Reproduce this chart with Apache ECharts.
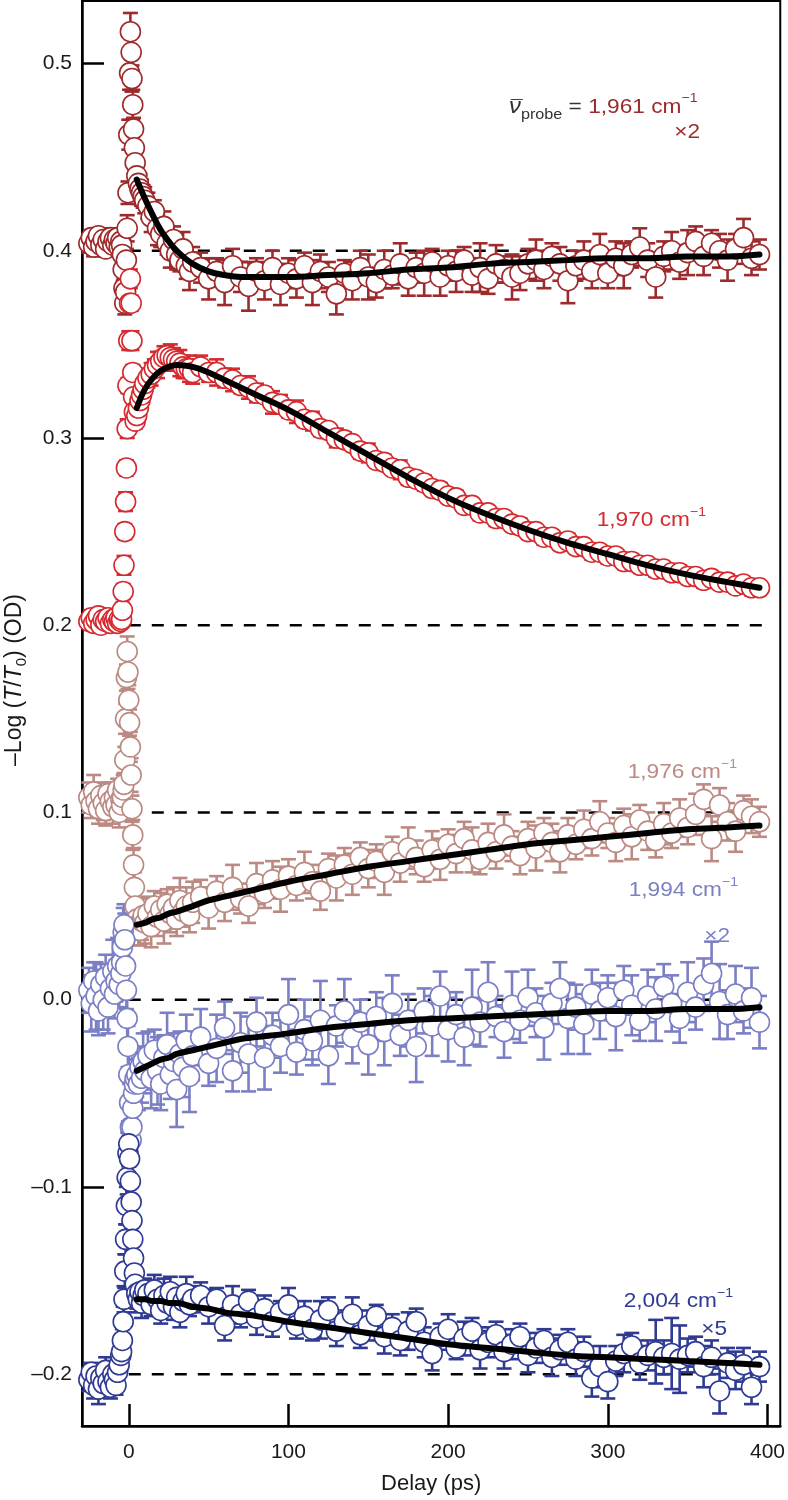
<!DOCTYPE html>
<html>
<head>
<meta charset="utf-8">
<script src="https://cdn.jsdelivr.net/npm/echarts@6/dist/echarts.min.js"></script>
<style>
html,body{margin:0;padding:0;background:#fff;}
#chart{width:788px;height:1500px;}
</style>
</head>
<body>
<div id="chart"></div>
<script>
// ---------------- DATA ----------------
const delays = [
  -25,-23.5,-22,-20.5,-19,-17.5,-16,-14.5,-13,-11.5,-10,-9,-8,-7,-6,-5,
  -4.5,-4,-3.5,-3,-2.5,-2,-1.5,-1,-0.5,0,0.5,1,1.5,2,2.5,3,3.5,4,5,6,7,8,9,10,
  12,14,16,18,20,22,24,26,28,30,32,34,36,38,40,
  45,50,55,60,65,70,75,80,85,90,
  95,100,105,110,115,120,125,130,135,140,
  145,150,155,160,165,170,175,180,185,190,
  195,200,205,210,215,220,225,230,235,240,
  245,250,255,260,265,270,275,280,285,290,
  295,300,305,310,315,320,325,330,335,340,
  345,350,355,360,365,370,375,380,385,390,
  395
];

// 1,961 cm-1 (x2)
const v1961 = [
  0.404,0.407,0.402,0.405,0.408,0.403,0.406,0.401,0.405,0.407,0.403,0.406,0.404,0.407,0.402,0.405,
  0.403,0.398,0.390,0.380,0.372,0.378,0.395,0.412,0.431,0.462,0.495,0.517,0.506,0.492,0.478,0.465,0.455,0.447,0.440,0.436,0.433,0.431,0.429,0.427,
  0.424,0.418,0.421,0.412,0.409,0.413,0.404,0.400,0.406,0.398,0.395,0.401,0.392,0.389,0.394,
  0.391,0.385,0.389,0.383,0.392,0.386,0.381,0.389,0.384,0.391,
  0.382,0.388,0.385,0.392,0.383,0.389,0.386,0.377,0.388,0.384,
  0.391,0.386,0.383,0.390,0.387,0.393,0.385,0.391,0.388,0.394,
  0.386,0.392,0.389,0.395,0.387,0.391,0.385,0.393,0.390,0.386,
  0.388,0.393,0.395,0.390,0.397,0.393,0.384,0.392,0.395,0.389,
  0.398,0.388,0.396,0.392,0.398,0.402,0.395,0.386,0.397,0.400,
  0.394,0.399,0.405,0.397,0.404,0.400,0.395,0.401,0.407,0.396,
  0.398
];
const e1961 = [
  0.005,0.004,0.005,0.006,0.004,0.005,0.005,0.004,0.006,0.005,0.004,0.005,0.005,0.004,0.005,0.006,
  0.006,0.005,0.006,0.005,0.006,0.005,0.006,0.007,0.006,0.008,0.009,0.010,0.008,0.007,0.008,0.006,0.007,0.006,0.007,0.006,0.008,0.007,0.006,0.007,
  0.007,0.008,0.006,0.009,0.007,0.008,0.006,0.009,0.007,0.008,0.006,0.009,0.007,0.010,0.008,
  0.008,0.011,0.007,0.012,0.009,0.008,0.013,0.007,0.010,0.009,
  0.011,0.008,0.010,0.007,0.012,0.009,0.008,0.011,0.007,0.010,
  0.009,0.012,0.008,0.010,0.007,0.011,0.009,0.008,0.012,0.007,
  0.010,0.008,0.011,0.007,0.009,0.013,0.008,0.010,0.007,0.012,
  0.009,0.008,0.011,0.010,0.007,0.009,0.012,0.008,0.010,0.009,
  0.011,0.008,0.009,0.012,0.007,0.010,0.009,0.011,0.008,0.010,
  0.009,0.012,0.008,0.010,0.007,0.009,0.011,0.008,0.010,0.009,
  0.008
];

// 1,970 cm-1
const v1970 = [
  0.202,0.204,0.201,0.203,0.205,0.200,0.203,0.202,0.204,0.201,0.203,0.202,0.204,0.201,0.203,0.202,
  0.203,0.208,0.218,0.232,0.250,0.266,0.284,0.305,0.328,0.352,0.372,0.385,0.372,0.352,0.335,0.322,0.314,0.309,0.312,0.316,0.320,0.323,0.326,0.329,
  0.332,0.334,0.337,0.339,0.341,0.343,0.344,0.343,0.342,0.341,0.340,0.338,0.337,0.337,0.335,
  0.338,0.335,0.335,0.332,0.331,0.328,0.327,0.324,0.323,0.319,
  0.318,0.315,0.314,0.310,0.309,0.305,0.304,0.300,0.299,0.297,
  0.293,0.292,0.288,0.287,0.284,0.283,0.279,0.278,0.276,0.273,
  0.272,0.269,0.268,0.264,0.264,0.260,0.260,0.257,0.257,0.254,
  0.253,0.250,0.250,0.247,0.247,0.244,0.245,0.242,0.242,0.239,
  0.239,0.237,0.237,0.234,0.234,0.232,0.232,0.230,0.230,0.228,
  0.228,0.226,0.226,0.224,0.225,0.223,0.223,0.221,0.222,0.220,
  0.220
];
const e1970 = [
  0.003,0.004,0.003,0.003,0.004,0.003,0.003,0.004,0.003,0.003,0.004,0.003,0.003,0.004,0.003,0.003,
  0.003,0.004,0.004,0.005,0.004,0.005,0.004,0.005,0.004,0.005,0.004,0.005,0.004,0.005,0.004,0.004,0.005,0.004,0.004,0.005,0.004,0.005,0.004,0.005,
  0.005,0.006,0.005,0.007,0.005,0.006,0.005,0.007,0.006,0.005,0.007,0.006,0.005,0.007,0.006,
  0.006,0.005,0.007,0.005,0.006,0.004,0.006,0.005,0.004,0.006,
  0.005,0.004,0.006,0.004,0.005,0.004,0.003,0.005,0.004,0.003,
  0.004,0.005,0.003,0.004,0.003,0.005,0.004,0.003,0.004,0.003,
  0.004,0.003,0.004,0.003,0.003,0.004,0.003,0.004,0.003,0.003,
  0.004,0.003,0.003,0.004,0.003,0.003,0.004,0.003,0.003,0.004,
  0.003,0.004,0.003,0.003,0.004,0.003,0.003,0.004,0.003,0.003,
  0.004,0.003,0.003,0.004,0.003,0.003,0.004,0.003,0.003,0.004,
  0.003
];

// 1,976 cm-1
const v1976 = [
  0.108,0.104,0.111,0.106,0.102,0.109,0.105,0.101,0.110,0.106,0.103,0.108,0.104,0.112,0.100,0.107,
  0.104,0.108,0.112,0.115,0.128,0.150,0.172,0.186,0.175,0.160,0.148,0.135,0.120,0.102,0.088,0.072,0.060,0.050,0.043,0.040,0.037,0.042,0.045,0.041,
  0.046,0.039,0.050,0.044,0.048,0.042,0.051,0.046,0.049,0.043,0.053,0.047,0.050,0.045,0.052,
  0.055,0.049,0.058,0.052,0.060,0.054,0.050,0.062,0.057,0.064,
  0.059,0.066,0.061,0.068,0.063,0.058,0.070,0.065,0.072,0.067,
  0.076,0.070,0.074,0.068,0.079,0.073,0.081,0.076,0.071,0.080,
  0.075,0.083,0.078,0.086,0.080,0.075,0.084,0.079,0.088,0.082,
  0.077,0.086,0.081,0.089,0.084,0.079,0.088,0.083,0.091,0.086,
  0.095,0.089,0.084,0.093,0.087,0.096,0.090,0.085,0.094,0.089,
  0.097,0.092,0.099,0.107,0.086,0.104,0.095,0.090,0.101,0.098,
  0.095
];
const e1976 = [
  0.008,0.007,0.009,0.006,0.008,0.007,0.009,0.008,0.006,0.007,0.009,0.008,0.007,0.006,0.008,0.007,
  0.008,0.007,0.008,0.006,0.007,0.008,0.007,0.008,0.009,0.008,0.007,0.008,0.009,0.007,0.008,0.009,0.008,0.010,0.009,0.011,0.008,0.010,0.009,0.011,
  0.009,0.011,0.008,0.010,0.009,0.012,0.008,0.010,0.011,0.009,0.012,0.008,0.010,0.009,0.011,
  0.009,0.011,0.008,0.010,0.012,0.008,0.009,0.011,0.008,0.010,
  0.012,0.009,0.008,0.011,0.009,0.010,0.008,0.012,0.009,0.011,
  0.008,0.010,0.009,0.012,0.008,0.010,0.011,0.009,0.008,0.010,
  0.011,0.008,0.010,0.009,0.012,0.008,0.010,0.009,0.011,0.008,
  0.010,0.009,0.012,0.008,0.010,0.011,0.009,0.008,0.010,0.009,
  0.011,0.008,0.010,0.009,0.012,0.008,0.010,0.009,0.011,0.008,
  0.010,0.009,0.011,0.008,0.012,0.009,0.010,0.011,0.008,0.009,
  0.008
];

// 1,994 cm-1 (x2)
const v1994 = [
  0.005,-0.002,0.010,0.002,-0.006,0.008,0.000,0.012,-0.004,0.006,0.015,0.003,0.010,0.018,0.008,0.014,
  0.020,0.028,0.036,0.040,0.032,0.018,0.005,-0.010,-0.025,-0.040,-0.055,-0.068,-0.075,-0.068,-0.058,-0.050,-0.045,-0.042,-0.040,-0.045,-0.036,-0.042,-0.033,-0.038,
  -0.030,-0.042,-0.027,-0.038,-0.045,-0.031,-0.024,-0.040,-0.033,-0.048,-0.029,-0.036,-0.022,-0.041,-0.030,
  -0.020,-0.034,-0.026,-0.015,-0.038,-0.023,-0.029,-0.012,-0.031,-0.019,
  -0.025,-0.008,-0.028,-0.016,-0.022,-0.011,-0.030,-0.014,-0.006,-0.020,
  -0.012,-0.024,-0.009,-0.017,-0.002,-0.019,-0.011,-0.025,-0.006,-0.014,
  0.002,-0.016,-0.008,-0.020,-0.004,-0.012,0.004,-0.009,-0.017,-0.003,
  -0.011,0.001,-0.007,-0.015,-0.002,0.006,-0.010,-0.004,-0.013,0.003,
  -0.006,0.001,-0.009,0.005,-0.003,-0.011,0.002,-0.005,0.007,-0.002,
  -0.010,0.004,-0.004,0.008,0.014,-0.001,-0.008,0.003,-0.006,0.001,
  -0.012
];
const e1994 = [
  0.012,0.015,0.010,0.018,0.013,0.011,0.016,0.012,0.014,0.010,0.017,0.013,0.011,0.015,0.012,0.014,
  0.012,0.010,0.013,0.011,0.014,0.012,0.010,0.013,0.011,0.012,0.010,0.009,0.011,0.010,0.012,0.011,0.013,0.010,0.012,0.014,0.011,0.013,0.015,0.012,
  0.013,0.016,0.011,0.018,0.014,0.012,0.017,0.013,0.015,0.020,0.012,0.016,0.014,0.019,0.013,
  0.015,0.012,0.018,0.014,0.011,0.016,0.020,0.013,0.017,0.012,
  0.014,0.019,0.012,0.016,0.013,0.021,0.015,0.011,0.017,0.014,
  0.012,0.016,0.013,0.018,0.015,0.011,0.014,0.019,0.012,0.016,
  0.013,0.017,0.012,0.015,0.020,0.013,0.016,0.011,0.014,0.018,
  0.012,0.015,0.013,0.017,0.011,0.014,0.019,0.012,0.016,0.013,
  0.015,0.012,0.018,0.013,0.016,0.011,0.014,0.017,0.012,0.015,
  0.013,0.016,0.012,0.014,0.017,0.020,0.013,0.015,0.012,0.016,
  0.014
];

// 2,004 cm-1 (x5)
const v2004 = [
  -0.203,-0.199,-0.206,-0.201,-0.208,-0.202,-0.205,-0.198,-0.204,-0.207,-0.200,-0.203,-0.206,-0.199,-0.195,-0.190,
  -0.188,-0.182,-0.172,-0.160,-0.145,-0.128,-0.110,-0.095,-0.082,-0.077,-0.085,-0.097,-0.108,-0.118,-0.128,-0.138,-0.146,-0.152,-0.157,-0.160,-0.156,-0.162,-0.158,-0.155,
  -0.157,-0.163,-0.155,-0.160,-0.166,-0.158,-0.162,-0.156,-0.164,-0.159,-0.167,-0.161,-0.157,-0.163,-0.160,
  -0.158,-0.164,-0.160,-0.174,-0.163,-0.168,-0.161,-0.170,-0.165,-0.172,
  -0.167,-0.163,-0.174,-0.169,-0.176,-0.171,-0.166,-0.177,-0.172,-0.168,
  -0.179,-0.174,-0.169,-0.180,-0.175,-0.182,-0.177,-0.172,-0.183,-0.189,
  -0.180,-0.176,-0.186,-0.181,-0.177,-0.187,-0.183,-0.179,-0.188,-0.184,
  -0.180,-0.190,-0.186,-0.182,-0.191,-0.187,-0.183,-0.192,-0.188,-0.202,
  -0.196,-0.204,-0.193,-0.189,-0.185,-0.194,-0.190,-0.188,-0.191,-0.189,
  -0.192,-0.190,-0.188,-0.196,-0.191,-0.209,-0.194,-0.198,-0.195,-0.207,
  -0.196
];
const e2004 = [
  0.006,0.005,0.007,0.006,0.008,0.005,0.006,0.007,0.005,0.006,0.007,0.006,0.005,0.007,0.006,0.008,
  0.007,0.006,0.008,0.007,0.009,0.008,0.010,0.009,0.011,0.012,0.010,0.009,0.008,0.009,0.008,0.007,0.008,0.009,0.008,0.007,0.006,0.008,0.007,0.006,
  0.007,0.006,0.008,0.006,0.007,0.009,0.006,0.008,0.007,0.006,0.008,0.007,0.009,0.006,0.007,
  0.007,0.009,0.006,0.008,0.010,0.007,0.006,0.009,0.007,0.008,
  0.006,0.009,0.007,0.008,0.006,0.010,0.007,0.008,0.006,0.009,
  0.007,0.008,0.006,0.009,0.007,0.008,0.010,0.007,0.008,0.009,
  0.007,0.008,0.006,0.009,0.007,0.010,0.008,0.007,0.009,0.008,
  0.007,0.009,0.008,0.006,0.010,0.008,0.007,0.009,0.008,0.010,
  0.011,0.009,0.008,0.010,0.007,0.009,0.008,0.017,0.009,0.019,
  0.018,0.009,0.008,0.011,0.009,0.012,0.008,0.010,0.009,0.009,
  0.008
];

// fitted curves (black)
const fitDelays = [5,10,15,20,25,30,40,50,60,70,80,100,125,150,175,200,225,250,275,300,325,350,375,395];
const fit1961 = [0.438,0.428,0.419,0.411,0.405,0.400,0.393,0.389,0.387,0.386,0.386,0.386,0.387,0.388,0.390,0.391,0.393,0.394,0.395,0.396,0.396,0.397,0.397,0.398];
const fit1970 = [0.316,0.326,0.332,0.336,0.338,0.339,0.338,0.335,0.331,0.327,0.323,0.315,0.303,0.291,0.279,0.268,0.259,0.251,0.244,0.238,0.232,0.227,0.223,0.220];
const fit1976 = [0.040,0.041,0.043,0.044,0.046,0.047,0.050,0.053,0.055,0.057,0.059,0.063,0.067,0.071,0.074,0.077,0.080,0.083,0.085,0.087,0.089,0.091,0.092,0.093];
const fit1994 = [-0.038,-0.036,-0.034,-0.032,-0.031,-0.029,-0.027,-0.025,-0.023,-0.021,-0.020,-0.018,-0.015,-0.013,-0.011,-0.010,-0.009,-0.008,-0.007,-0.006,-0.006,-0.005,-0.005,-0.004];
const fit2004 = [-0.160,-0.160,-0.161,-0.161,-0.162,-0.162,-0.164,-0.165,-0.167,-0.168,-0.169,-0.172,-0.175,-0.178,-0.181,-0.184,-0.186,-0.188,-0.190,-0.191,-0.192,-0.193,-0.194,-0.195];

// dashed baselines
const baselines = [0.4, 0.2, 0.1, 0.0, -0.2];
const baselineRange = [0, 400];

const xTicks = [0, 100, 200, 300, 400];
const yTicks = [-0.2, -0.1, 0.0, 0.1, 0.2, 0.3, 0.4, 0.5];

// ---------------- STYLE ----------------
const FONT = "'Liberation Sans', Arial, Helvetica, sans-serif";
const TXT = '#1a1a1a';
const traces = [
  {vals: v1961, errs: e1961, fit: fit1961, color: '#9d2a2c'},
  {vals: v1970, errs: e1970, fit: fit1970, color: '#d42b30'},
  {vals: v1976, errs: e1976, fit: fit1976, color: '#bb8a83'},
  {vals: v1994, errs: e1994, fit: fit1994, color: '#7b7fc4'},
  {vals: v2004, errs: e2004, fit: fit2004, color: '#2f3a92'}
];

const series = [];
baselines.forEach(b => {
  series.push({
    type: 'line', z: 1, silent: true, symbol: 'none', animation: false,
    data: baselineRange.map(x => [x, b]),
    lineStyle: {color: '#000', width: 2.5, type: [12, 11]}
  });
});
traces.forEach(t => {
  const n = Math.min(delays.length, t.vals.length, t.errs.length);
  const errData = [], ptData = [];
  for (let i = 0; i < n; i++) {
    errData.push([delays[i], t.vals[i] - t.errs[i], t.vals[i] + t.errs[i]]);
    ptData.push([delays[i], t.vals[i]]);
  }
  series.push({
    type: 'custom', z: 2, silent: true, animation: false,
    data: errData,
    renderItem: (params, api) => {
      const x = api.value(0);
      const top = api.coord([x, api.value(2)]);
      const bot = api.coord([x, api.value(1)]);
      const hw = 7.5;
      const st = {stroke: t.color, lineWidth: 2.6};
      return {type: 'group', children: [
        {type: 'line', shape: {x1: top[0], y1: top[1], x2: bot[0], y2: bot[1]}, style: st},
        {type: 'line', shape: {x1: top[0] - hw, y1: top[1], x2: top[0] + hw, y2: top[1]}, style: st},
        {type: 'line', shape: {x1: bot[0] - hw, y1: bot[1], x2: bot[0] + hw, y2: bot[1]}, style: st}
      ]};
    }
  });
  series.push({
    type: 'scatter', z: 3, silent: true, animation: false,
    data: ptData, symbol: 'circle', symbolSize: 20,
    itemStyle: {color: '#fff', borderColor: t.color, borderWidth: 1.6, opacity: 1}
  });
});
traces.forEach(t => {
  series.push({
    type: 'line', z: 5, silent: true, animation: false, symbol: 'none', smooth: 0.4,
    data: fitDelays.map((d, i) => [d, t.fit[i]]),
    lineStyle: {color: '#000', width: 6, cap: 'round'}
  });
});

const SX = 1.08;
function lbl(x, y, text, color) {
  return {
    type: 'text', x: x, y: y, z: 100, scaleX: SX,
    style: {
      text: text, align: 'right', verticalAlign: 'middle',
      rich: {
        m: {fontSize: 21, fontFamily: FONT, fill: color, lineHeight: 28},
        s: {fontSize: 13, fontFamily: FONT, fill: color, lineHeight: 13, verticalAlign: 'top'}
      }
    }
  };
}

const chart = echarts.init(document.getElementById('chart'), null, {renderer: 'canvas'});
chart.setOption({
  animation: false,
  backgroundColor: '#fff',
  grid: {left: 82, right: 6, top: 1, bottom: 69, show: true, borderColor: '#000', borderWidth: 2, containLabel: false},
  xAxis: {
    type: 'value', min: -29.3, max: 408,
    axisLine: {show: true, onZero: false, lineStyle: {color: '#000', width: 2.5}},
    axisTick: {show: true, inside: true, length: 22, lineStyle: {color: '#000', width: 2.5}, customValues: xTicks},
    axisLabel: {customValues: xTicks, fontSize: 21, color: TXT, fontFamily: FONT, margin: 16},
    splitLine: {show: false},
    name: 'Delay (ps)', nameLocation: 'middle', nameGap: 47,
    nameTextStyle: {fontSize: 22, color: TXT, fontFamily: FONT}
  },
  yAxis: {
    type: 'value', min: -0.2277, max: 0.5334,
    axisLine: {show: true, onZero: false, lineStyle: {color: '#000', width: 2.5}},
    axisTick: {show: true, inside: true, length: 22, lineStyle: {color: '#000', width: 2.5}, customValues: yTicks},
    axisLabel: {customValues: yTicks, fontSize: 21, color: TXT, fontFamily: FONT, margin: 10,
      formatter: v => (v < -1e-9 ? '\u2013' : '') + Math.abs(v).toFixed(1)},
    splitLine: {show: false}
  },
  series: series,
  graphic: [
    {
      type: 'text', x: 15, y: 680, rotation: Math.PI / 2, z: 100,
      style: {
        text: '{m|\u2013Log (}{i|T}{m|/}{i|T}{b|0}{m|) (OD)}',
        align: 'center', verticalAlign: 'middle',
        rich: {
          m: {fontSize: 23, fontFamily: FONT, fill: TXT, lineHeight: 29},
          i: {fontSize: 23, fontFamily: FONT, fontStyle: 'italic', fill: TXT, lineHeight: 29},
          b: {fontSize: 15, fontFamily: FONT, fill: TXT, lineHeight: 15, verticalAlign: 'bottom'}
        }
      }
    },
    {
      type: 'text', x: 509, y: 107, z: 100, scaleX: SX,
      style: {
        text: '{nu|\u03BD}{sub|probe}{eq| = }{m|1,961 cm}{s|\u22121}',
        align: 'left', verticalAlign: 'middle',
        rich: {
          nu: {fontSize: 22, fontFamily: FONT, fontStyle: 'italic', fill: '#333', lineHeight: 30},
          sub: {fontSize: 15, fontFamily: FONT, fill: '#333', lineHeight: 15, verticalAlign: 'bottom'},
          eq: {fontSize: 21, fontFamily: FONT, fill: '#333', lineHeight: 30},
          m: {fontSize: 21, fontFamily: FONT, fill: '#9d2a2c', lineHeight: 30},
          s: {fontSize: 13, fontFamily: FONT, fill: '#9d2a2c', lineHeight: 13, verticalAlign: 'top'}
        }
      }
    },
    {
      type: 'text', x: 511, y: 108, z: 101,
      style: {text: '\u00AF', align: 'left', verticalAlign: 'middle', fontSize: 21, fontFamily: FONT, fill: '#333'}
    },
    lbl(700, 132, '{m|\u00D72}', '#9d2a2c'),
    lbl(706, 520, '{m|1,970 cm}{s|\u22121}', '#d42b30'),
    lbl(737, 772, '{m|1,976 cm}{s|\u22121}', '#bb8a83'),
    lbl(738, 890, '{m|1,994 cm}{s|\u22121}', '#7b7fc4'),
    lbl(730, 936, '{m|\u00D72}', '#7b7fc4'),
    lbl(733, 1301, '{m|2,004 cm}{s|\u22121}', '#2f3a92'),
    lbl(727, 1329, '{m|\u00D75}', '#2f3a92')
  ]
});
</script>
</body>
</html>
